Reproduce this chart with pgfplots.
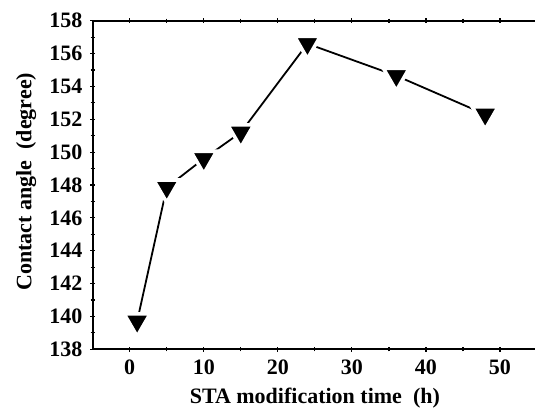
\documentclass[border=0pt]{standalone}
\usepackage{fontspec}
\setmainfont{Liberation Serif}
\usepackage{pgfplots}
\pgfplotsset{compat=1.18}
\usetikzlibrary{calc}
\begin{document}
\begin{tikzpicture}
\begin{axis}[
  name=ax,
  scale only axis,
  width=444.3pt, height=328.6pt,
  xmin=-5, xmax=55, ymin=138, ymax=158,
  xtick={0,10,...,50}, ytick={138,140,...,158},
  minor x tick num=1, minor y tick num=1,
  xtick pos=both, ytick pos=left,
  xticklabel pos=left,
  tick align=center,
  major tick length=5pt, minor tick length=4pt,
  axis line style={line width=1.8pt},
  every tick/.style={line width=1.2pt, black},
  every minor tick/.style={line width=1.2pt, black},
  /pgf/number format/assume math mode=true,
  /pgf/number format/1000 sep={},
  tick label style={font=\fontsize{22}{26}\selectfont\bfseries, inner sep=0pt},
  xticklabel style={anchor=north},
  yticklabel style={anchor=east},
  xticklabel shift=8pt,
  yticklabel shift=7.7pt,
  xlabel={STA modification time\ \ (h)},
  ylabel={Contact angle\ \ (degree)},
  label style={font=\fontsize{22}{26}\selectfont\bfseries},
  xlabel style={at={(axis description cs:0.5,-0.149)}, anchor=center},
  ylabel style={at={(axis description cs:-0.150,0.51)}, anchor=center, rotate=0},
  clip=false,
]
\addplot[black, line width=1.8pt, mark=triangle*,
  mark size=15pt,
  mark options={rotate=180, fill=black, draw=white, line width=3.6pt, line join=miter}]
  coordinates {(1,139.7) (5,147.85) (10,149.6) (15,151.2) (24,156.6) (36,154.65) (48,152.3)};
\end{axis}
\pgfresetboundingbox
\path ($(ax.south west)+(-92.7pt,-57.7pt)$) rectangle ($(ax.north east)+(-2pt,20.7pt)$);
\end{tikzpicture}
\end{document}
